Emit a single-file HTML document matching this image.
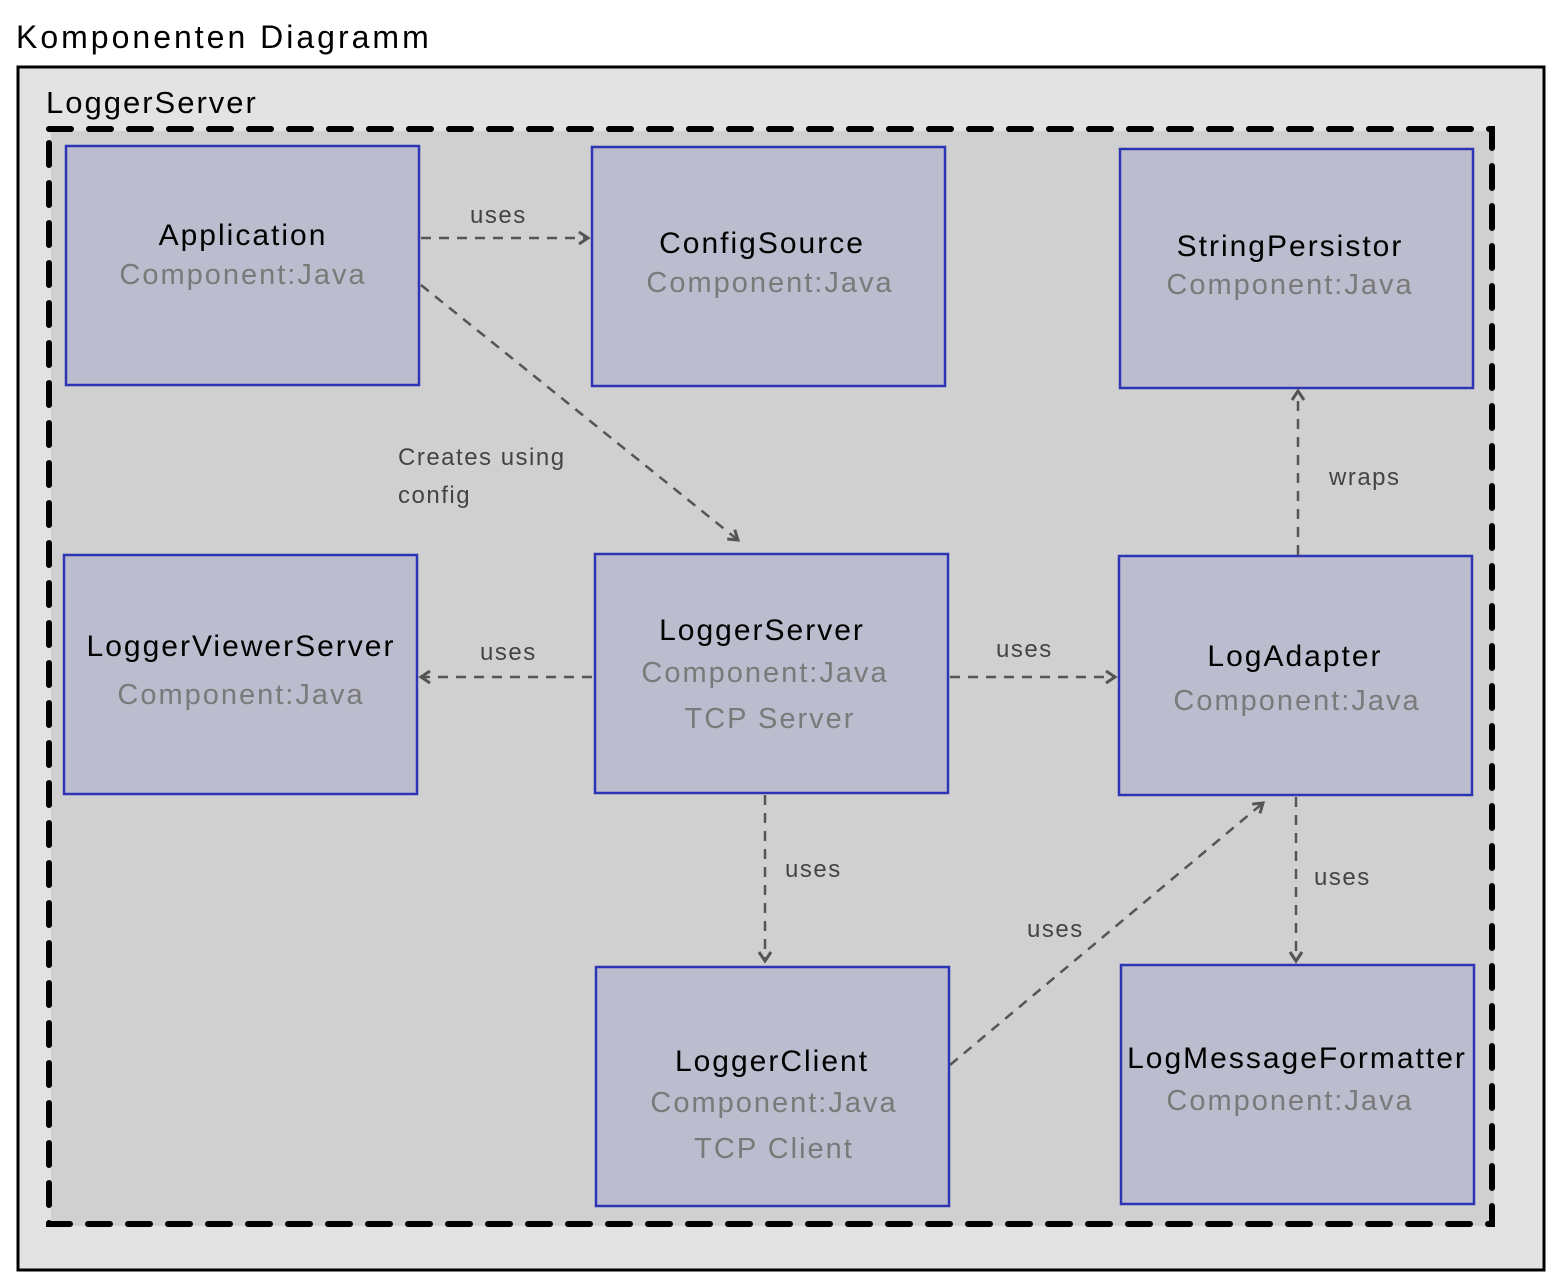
<!DOCTYPE html>
<html><head><meta charset="utf-8"><style>
html,body{margin:0;padding:0;background:#fff;}
svg{display:block;}
text{font-family:"Liberation Sans",sans-serif;}
.t{font-size:30px;fill:#000;letter-spacing:2px;text-anchor:middle;}
.s{font-size:29px;fill:#7a7a7a;letter-spacing:2px;text-anchor:middle;}
.l{font-size:24px;fill:#444;letter-spacing:1.5px;}
.b{fill:#bbbccd;stroke:#2e35b5;stroke-width:2.5;}
.a{stroke:#555;stroke-width:2.5;stroke-dasharray:10 8;fill:none;marker-end:url(#m);}
</style></head><body>
<svg width="1561" height="1286" viewBox="0 0 1561 1286" xmlns="http://www.w3.org/2000/svg">
<defs><marker id="m" markerWidth="16" markerHeight="16" refX="12" refY="8" orient="auto" markerUnits="userSpaceOnUse"><path d="M3,2 L12,8 L3,14" fill="none" stroke="#555" stroke-width="3"/></marker></defs>
<text x="16" y="48" style="font-size:32px;letter-spacing:3px">Komponenten Diagramm</text>
<rect x="18" y="67" width="1526" height="1203" fill="#e3e3e3" stroke="#000" stroke-width="3"/>
<text x="46" y="113" style="font-size:31px;letter-spacing:2px">LoggerServer</text>
<rect x="51" y="131" width="1443" height="1095" fill="#d0d0d0"/>
<rect x="49" y="129" width="1443" height="1095" fill="none" stroke="#000" stroke-width="6" stroke-dasharray="22 18" stroke-linecap="round"/>

<rect class="b" x="66" y="146" width="353" height="239"/>
<text class="t" x="243" y="245">Application</text><text class="s" x="243" y="284">Component:Java</text>
<rect class="b" x="592" y="147" width="353" height="239"/>
<text class="t" x="762" y="253">ConfigSource</text><text class="s" x="770" y="292">Component:Java</text>
<rect class="b" x="1120" y="149" width="353" height="239"/>
<text class="t" x="1290" y="256">StringPersistor</text><text class="s" x="1290" y="294">Component:Java</text>
<rect class="b" x="64" y="555" width="353" height="239"/>
<text class="t" x="241" y="656">LoggerViewerServer</text><text class="s" x="241" y="704">Component:Java</text>
<rect class="b" x="595" y="554" width="353" height="239"/>
<text class="t" x="762" y="640">LoggerServer</text><text class="s" x="765" y="682">Component:Java</text><text class="s" x="770" y="728">TCP Server</text>
<rect class="b" x="1119" y="556" width="353" height="239"/>
<text class="t" x="1295" y="666">LogAdapter</text><text class="s" x="1297" y="710">Component:Java</text>
<rect class="b" x="596" y="967" width="353" height="239"/>
<text class="t" x="772" y="1071">LoggerClient</text><text class="s" x="774" y="1112">Component:Java</text><text class="s" x="774" y="1158">TCP Client</text>
<rect class="b" x="1121" y="965" width="353" height="239"/>
<text class="t" x="1297" y="1068">LogMessageFormatter</text><text class="s" x="1290" y="1110">Component:Java</text>

<line class="a" x1="421" y1="238" x2="588" y2="238"/>
<text class="l" x="470" y="223">uses</text>
<line class="a" x1="421" y1="285" x2="738" y2="540"/>
<text class="l" x="398" y="465">Creates using</text><text class="l" x="398" y="503">config</text>
<line class="a" x1="592" y1="677" x2="421" y2="677"/>
<text class="l" x="480" y="660">uses</text>
<line class="a" x1="950" y1="677" x2="1115" y2="677"/>
<text class="l" x="996" y="657">uses</text>
<line class="a" x1="1298" y1="555" x2="1298" y2="391"/>
<text class="l" x="1329" y="485">wraps</text>
<line class="a" x1="765" y1="795" x2="765" y2="961"/>
<text class="l" x="785" y="877">uses</text>
<line class="a" x1="950" y1="1065" x2="1263" y2="803"/>
<text class="l" x="1027" y="937">uses</text>
<line class="a" x1="1296" y1="797" x2="1296" y2="961"/>
<text class="l" x="1314" y="885">uses</text>
</svg>
</body></html>
